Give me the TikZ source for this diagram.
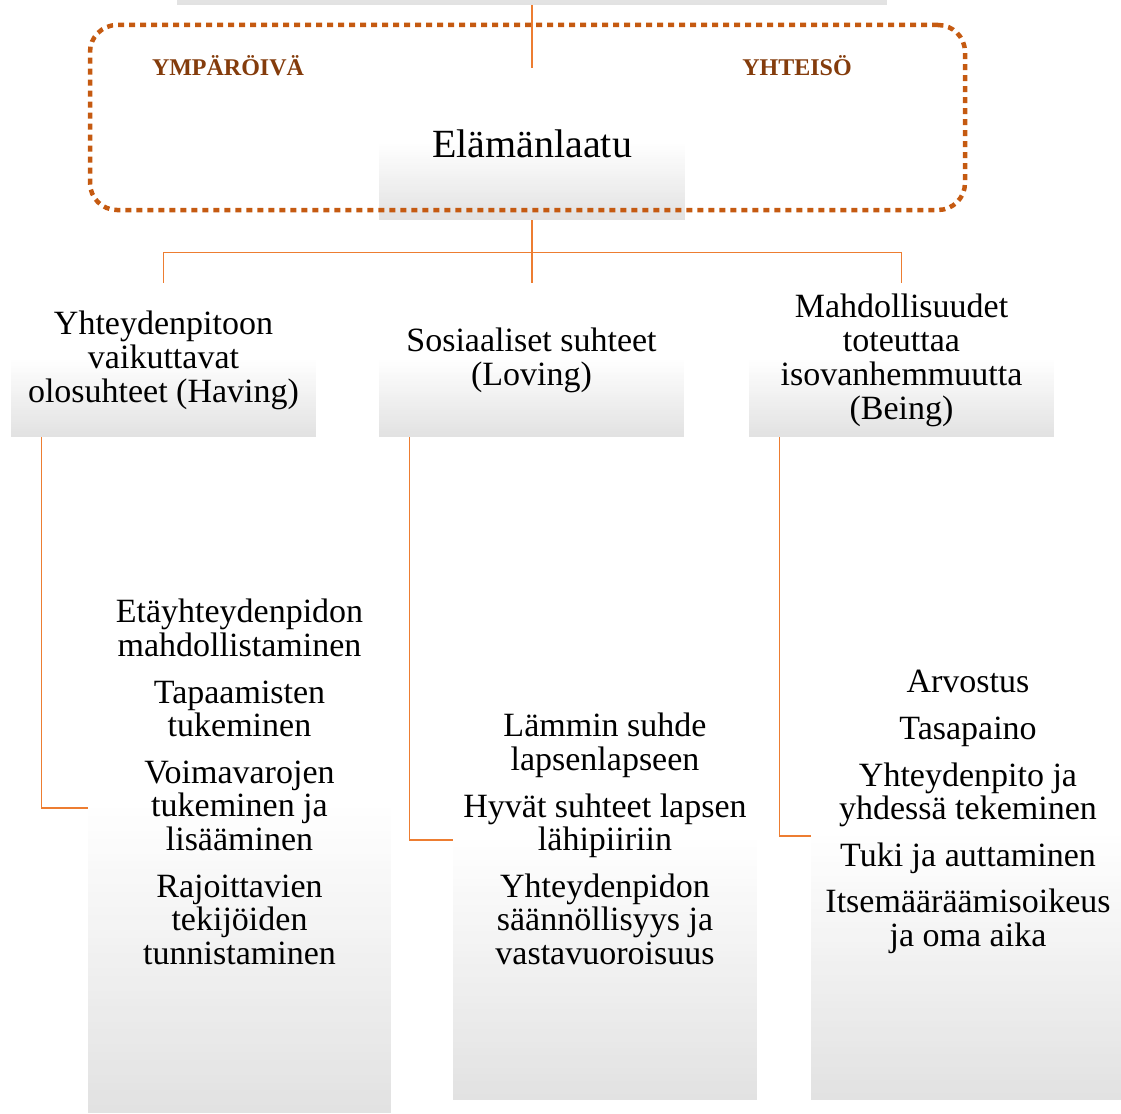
\documentclass[tikz,border=0pt]{standalone}
\usepackage{fontspec}
\usetikzlibrary{calc}
\setmainfont{Liberation Serif}
\definecolor{conncol}{HTML}{ED7D31}
\definecolor{framecol}{HTML}{C55A11}
\definecolor{labcol}{HTML}{843C0C}
\definecolor{boxgray}{HTML}{E2E2E2}
\tikzset{
  gbox/.style={rectangle, inner sep=0pt, draw=none,
    path picture={
      \foreach \i in {0,...,39}{
        \pgfmathsetmacro\pc{(\i+1)*2.5}
        \fill[boxgray!\pc!white]
          ($(path picture bounding box.west)!\i/40!(path picture bounding box.south west)$)
          rectangle (path picture bounding box.south east);
      }}},
  conn/.style={draw=conncol, line width=1.3pt},
  lvltext/.style={align=center, inner sep=0pt, font=\fontsize{34}{34}\selectfont},
  leaftext/.style={align=center, inner sep=0pt, font=\fontsize{34}{33.6}\selectfont},
  lab/.style={inner sep=0pt, text=labcol, font=\fontsize{24}{26}\selectfont\bfseries},
}
\begin{document}
\begin{tikzpicture}[x=1pt,y=-1pt]
\useasboundingbox (0,0) rectangle (1121,1113);
% top (cut-off) box
\node[gbox, minimum width=710pt, minimum height=150pt] (topbox) at (532,-70) {};
% central box
\node[gbox, minimum width=306pt, minimum height=152pt] (elama) at (532,144) {};
\node[inner sep=0pt, font=\fontsize{40}{42}\selectfont] (elamat) at (532,144) {Elämänlaatu};
% level 2 boxes
\node[gbox, minimum width=305pt, minimum height=154pt] (l2a) at (163.5,360) {};
\node[gbox, minimum width=305pt, minimum height=154pt] (l2b) at (531.5,360) {};
\node[gbox, minimum width=305pt, minimum height=154pt] (l2c) at (901.5,360) {};
\node[lvltext] (l2at) at (163.5,360) {Yhteydenpitoon\\vaikuttavat\\olosuhteet (Having)};
\node[lvltext] (l2bt) at (531.5,360) {Sosiaaliset suhteet\\(Loving)};
\node[lvltext] (l2ct) at (901.5,360) {Mahdollisuudet\\toteuttaa\\isovanhemmuutta\\(Being)};
% level 3 boxes
\node[gbox, minimum width=303pt, minimum height=610pt] (l3a) at (239.5,808) {};
\node[gbox, minimum width=304pt, minimum height=520pt] (l3b) at (605,840) {};
\node[gbox, minimum width=310pt, minimum height=528pt] (l3c) at (966,836) {};
\node[leaftext] (l3at) at (239.5,782) {Etäyhteydenpidon\\mahdollistaminen\\[13pt]Tapaamisten\\tukeminen\\[13pt]Voimavarojen\\tukeminen ja\\lisääminen\\[13pt]Rajoittavien\\tekijöiden\\tunnistaminen};
\node[leaftext] (l3bt) at (605,839) {Lämmin suhde\\lapsenlapseen\\[13pt]Hyvät suhteet lapsen\\lähipiiriin\\[13pt]Yhteydenpidon\\säännöllisyys ja\\vastavuoroisuus};
\node[leaftext] (l3ct) at (968,812) {Arvostus\\[13pt]Tasapaino\\[13pt]Yhteydenpito ja\\yhdessä tekeminen\\[13pt]Tuki ja auttaminen\\[13pt]Itsemääräämisoikeus\\ja oma aika};
% connectors
\draw[conn] (topbox.south) -- (elama.north);
\draw[conn] (elama.south) -- ++(0,32) coordinate (hub) -| (l2a.north);
\draw[conn] (hub) -| (l2c.north);
\draw[conn] (hub) -- (l2b.north -| hub);
\draw[conn] ([xshift=31pt]l2a.south west) |- (l3a.west);
\draw[conn] ([xshift=31pt]l2b.south west) |- (l3b.west);
\draw[conn] ([xshift=31pt]l2c.south west) |- (l3c.west);
% dotted frame
\node[draw=framecol, line width=4.5pt, dash pattern=on 6pt off 5pt, rounded corners=27pt, minimum width=875pt, minimum height=185pt, inner sep=0pt] (frame) at (527.5,117.5) {};
\node[lab] (ymp) at (228,66) {YMPÄRÖIVÄ};
\node[lab] (yht) at (797,66) {YHTEISÖ};
\end{tikzpicture}
\end{document}
